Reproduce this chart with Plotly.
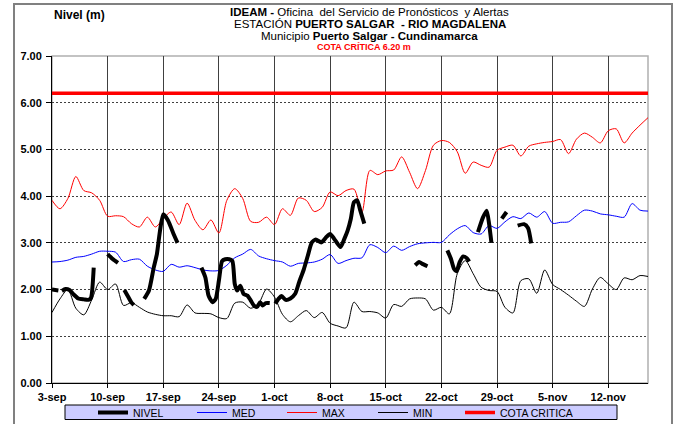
import pandas as pd
import plotly.graph_objects as go

# ---------------- data ----------------
start_date = "2023-09-03"
n_days = 76  # 3-sep .. 17-nov

max_vals = [3.91, 3.73, 3.95, 4.42, 4.12, 4.07, 3.91, 3.57, 3.58, 3.56,
            3.41, 3.34, 3.55, 3.34, 3.52, 3.66, 3.39, 3.85, 3.48, 3.28,
            3.49, 3.21, 3.91, 4.16, 3.95, 3.46, 3.44, 3.55, 3.39, 3.73,
            3.59, 3.96, 3.91, 3.67, 3.76, 4.09, 4.01, 4.12, 4.15, 3.66,
            4.55, 4.46, 4.54, 4.56, 4.84, 4.51, 4.16, 4.55, 5.09, 5.19,
            5.15, 4.95, 4.49, 4.73, 4.66, 4.62, 4.98, 5.05, 5.09, 4.86,
            5.07, 5.12, 5.15, 5.17, 5.21, 4.91, 5.22, 5.35, 5.26, 5.14,
            5.40, 5.44, 5.14, 5.35, 5.52, 5.68]

med_vals = [2.59, 2.60, 2.63, 2.69, 2.71, 2.76, 2.82, 2.82, 2.80, 2.60,
            2.64, 2.65, 2.50, 2.42, 2.39, 2.54, 2.48, 2.51, 2.47, 2.42,
            2.40, 2.41, 2.52, 2.68, 2.76, 2.86, 2.72, 2.66, 2.62, 2.59,
            2.50, 2.56, 2.57, 2.59, 2.65, 2.75, 2.56, 2.62, 2.67, 2.68,
            2.96, 2.90, 2.79, 2.93, 2.84, 2.92, 2.98, 3.00, 3.01, 3.01,
            3.17, 3.30, 3.37, 3.22, 3.19, 3.37, 3.31, 3.45, 3.56, 3.52,
            3.64, 3.55, 3.67, 3.42, 3.44, 3.45, 3.58, 3.70, 3.68, 3.62,
            3.60, 3.57, 3.55, 3.84, 3.70, 3.68]

min_vals = [1.51, 1.80, 2.00, 1.60, 1.46, 1.78, 2.16, 2.00, 2.12, 1.66,
            1.72, 1.62, 1.52, 1.47, 1.44, 1.44, 1.42, 1.67, 1.50, 1.49,
            1.48, 1.40, 1.38, 1.71, 1.73, 1.60, 1.70, 2.01, 1.84, 1.47,
            1.31, 1.44, 1.55, 1.40, 1.51, 1.28, 1.22, 1.18, 1.73, 1.53,
            1.53, 1.50, 1.39, 1.68, 1.64, 1.80, 1.82, 1.80, 1.56, 1.62,
            1.48, 2.34, 2.62, 2.34, 2.05, 1.98, 1.96, 1.62, 1.50, 2.19,
            2.23, 1.92, 2.42, 2.11, 2.00, 1.88, 1.75, 1.64, 2.01, 2.26,
            2.12, 2.00, 2.25, 2.21, 2.30, 2.28]

cota_critica = 6.20

# NIVEL readings: day offset from 3-sep and level (None = no data)
nivel_day = [0, 0.8, 1.0,
             1.25, 1.7, 2.2, 2.7, 3.3, 4.0, 4.6, 4.9, 5.25, 6.0,
             7.0, 7.6, 8.3, 8.7,
             9.1, 9.6, 10.0, 10.3, 11.0,
             11.6, 12.2, 12.8, 13.2, 13.6, 14.0, 14.6, 15.3, 15.8, 17.0,
             18.8, 19.3, 19.7, 20.2, 20.6, 21.0, 21.4, 21.8, 22.3, 22.7,
             23.0, 23.3, 23.7, 24.1, 24.6, 25.0, 25.4, 25.8, 26.2, 26.5,
             26.9, 27.4, 27.8,
             28.1, 28.5, 28.9, 29.4, 30.0, 30.6, 31.1, 31.7, 32.2, 32.7,
             33.2, 33.9, 34.5, 35.0, 35.5, 36.3, 36.8, 37.2, 37.6, 38.0,
             38.4, 38.8, 39.3, 42.0,
             45.7, 46.2, 46.6, 47.25, 48.0,
             49.75, 50.2, 50.6, 50.9, 51.3, 51.75, 52.2, 52.5, 53.0,
             53.6, 54.25, 54.7, 55.0, 55.3, 56.0,
             56.6, 57.2, 58.0,
             58.6, 59.4, 59.9, 60.3]
nivel_val = [2.00, 1.98, None,
             1.97, 2.01, 1.99, 1.90, 1.81, 1.79, 1.78, 1.82, 2.47, None,
             2.76, 2.66, 2.57, None,
             1.99, 1.84, 1.72, 1.67, None,
             1.80, 1.98, 2.47, 2.76, 3.27, 3.61, 3.48, 3.19, 3.00, None,
             2.47, 2.26, 1.87, 1.73, 1.80, 2.19, 2.61, 2.65, 2.65, 2.61,
             2.12, 1.98, 2.08, 1.91, 1.87, 1.77, 1.66, 1.63, 1.73, 1.66,
             1.71, 1.71, None,
             1.70, 1.80, 1.86, 1.78, 1.81, 1.91, 2.16, 2.44, 2.73, 3.01,
             3.07, 3.01, 3.12, 3.19, 3.09, 2.91, 3.09, 3.26, 3.51, 3.87,
             3.91, 3.69, 3.41, None,
             2.52, 2.59, 2.55, 2.50, None,
             2.84, 2.66, 2.44, 2.39, 2.59, 2.71, 2.67, 2.60, None,
             3.23, 3.55, 3.69, 3.41, 3.00, None,
             3.52, 3.66, None,
             3.37, 3.40, 3.32, 2.99]

tick_labels = ["3-sep", "10-sep", "17-sep", "24-sep", "1-oct", "8-oct",
               "15-oct", "22-oct", "29-oct", "5-nov", "12-nov"]
y_ticks = [0, 1, 2, 3, 4, 5, 6, 7]

# ---------------- build ----------------
base = pd.Timestamp(start_date)
days = pd.date_range(base, periods=n_days, freq="D")
nivel_x = [base + pd.Timedelta(days=d) for d in nivel_day]
tick_vals = [base + pd.Timedelta(days=7 * i) for i in range(len(tick_labels))]
end_date = days[-1]

FONT = "Liberation Sans, Arial, sans-serif"

fig = go.Figure()
fig.add_trace(go.Scatter(x=list(days), y=[cota_critica] * n_days, mode="lines",
                         name="COTA CRITICA", line=dict(color="#ff0000", width=3.5),
                         legendrank=5, legendwidth=90))
fig.add_trace(go.Scatter(x=list(days), y=max_vals, mode="lines", name="MAX",
                         line=dict(color="#ff0000", width=1, shape="spline", smoothing=0.8),
                         legendrank=3, legendwidth=46))
fig.add_trace(go.Scatter(x=list(days), y=med_vals, mode="lines", name="MED",
                         line=dict(color="#0000ff", width=1, shape="spline", smoothing=0.8),
                         legendrank=2, legendwidth=45))
fig.add_trace(go.Scatter(x=list(days), y=min_vals, mode="lines", name="MIN",
                         line=dict(color="#000000", width=1, shape="spline", smoothing=0.8),
                         legendrank=4, legendwidth=42))
fig.add_trace(go.Scatter(x=nivel_x, y=nivel_val, mode="lines", name="NIVEL",
                         connectgaps=False,
                         line=dict(color="#000000", width=4, shape="spline", smoothing=0.6),
                         legendrank=1, legendwidth=54))

L, R, T, B = 52, 28, 56, 41
W, H = 676, 424
pw, ph = W - L - R, H - T - B


def px_x(x):
    return (x - L) / pw


def px_y(y):
    return (H - B - y) / ph


shapes = [
    # outer chart frame
    dict(type="rect", xref="paper", yref="paper",
         x0=px_x(14), x1=px_x(672), y0=px_y(440), y1=px_y(4),
         line=dict(color="#808080", width=2), fillcolor="rgba(0,0,0,0)", layer="below"),
    # plot area border
    dict(type="rect", xref="paper", yref="paper", x0=0, x1=1, y0=0, y1=1,
         line=dict(color="#b0b0b0", width=1.5), fillcolor="rgba(0,0,0,0)", layer="below"),
    # legend box
    dict(type="rect", xref="paper", yref="paper",
         x0=px_x(65), x1=px_x(617), y0=px_y(419.5), y1=px_y(405),
         line=dict(color="#000000", width=1), fillcolor="#ccccff", layer="below"),
]

cx = px_x(370)
annotations = [
    dict(text="<b>IDEAM -</b> Oficina  del Servicio de Pronósticos  y Alertas",
         x=cx, y=px_y(12), font=dict(size=11.5)),
    dict(text="ESTACIÓN <b>PUERTO SALGAR  - RIO MAGDALENA</b>",
         x=cx, y=px_y(24), font=dict(size=11.5)),
    dict(text="Municipio <b>Puerto Salgar - Cundinamarca</b>",
         x=cx, y=px_y(36), font=dict(size=11.5)),
    dict(text="<b>COTA CRÍTICA 6.20 m</b>",
         x=px_x(364), y=px_y(47), font=dict(size=9, color="#ff0000")),
    dict(text="<b>Nivel (m)</b>", x=px_x(52), y=px_y(15), xanchor="left",
         font=dict(size=12)),
]
for a in annotations:
    a.update(xref="paper", yref="paper", showarrow=False)
    a.setdefault("xanchor", "center")
    a["yanchor"] = "middle"
    a["font"].setdefault("color", "#000000")
    a["font"]["family"] = FONT

fig.update_layout(
    width=W, height=H,
    margin=dict(l=L, r=R, t=T, b=B, pad=0, autoexpand=False),
    paper_bgcolor="white", plot_bgcolor="white",
    font=dict(family=FONT, color="#000000"),
    showlegend=True,
    legend=dict(orientation="h", x=px_x(93), xanchor="left", y=px_y(412.5), yanchor="middle",
                bgcolor="rgba(0,0,0,0)", borderwidth=0,
                font=dict(size=10.5, family=FONT, color="#000000"), traceorder="normal"),
    shapes=shapes,
    annotations=annotations,
)

fig.update_xaxes(
    type="date", range=[base, end_date],
    tickvals=tick_vals, ticktext=tick_labels,
    tickfont=dict(size=11, family=FONT, weight="bold", color="#000000"),
    showgrid=True, gridcolor="#404040", gridwidth=1,
    showline=True, linecolor="#000000", linewidth=1,
    ticks="outside", ticklen=4, tickcolor="#000000",
    zeroline=False, fixedrange=True, automargin=False,
)
fig.update_yaxes(
    range=[0, 7], tickvals=y_ticks, tickformat=".2f",
    tickfont=dict(size=11, family=FONT, weight="bold", color="#000000"),
    showgrid=True, gridcolor="#404040", gridwidth=1, griddash="2px,2px",
    showline=True, linecolor="#000000", linewidth=1,
    ticks="outside", ticklen=5, tickcolor="#000000", ticklabelstandoff=2,
    zeroline=False, fixedrange=True, automargin=False,
)

fig.write_html("out.html", config={"displayModeBar": False},
               post_script="document.body.style.margin='0';document.body.style.overflow='hidden';")
